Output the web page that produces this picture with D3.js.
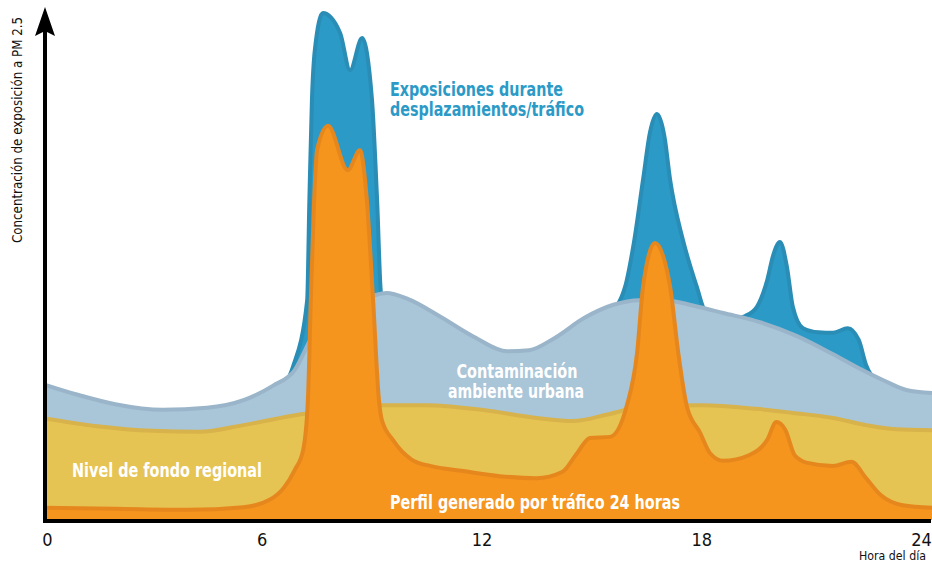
<!DOCTYPE html>
<html><head><meta charset="utf-8">
<script src="https://cdn.jsdelivr.net/npm/d3@7/dist/d3.min.js"></script>
<style>
html,body{margin:0;padding:0;background:#fff;}
svg{display:block;}
text{font-family:"Liberation Sans Narrow","DejaVu Sans Condensed","DejaVu Sans",sans-serif;font-stretch:condensed;}
</style></head>
<body>
<svg id="chart" width="932" height="568"></svg>
<script>
// Hour-of-day ticks
const hourTicks = [0, 6, 12, 18, 24];

// Traffic exposure (commuting) – hours / concentration
const exposureHours = [0, 3, 5.5, 6.4, 6.85, 7.24, 7.3, 7.37, 7.45, 7.67, 8.14, 8.41, 8.74, 9.01, 9.15, 9.26, 9.5, 10, 10.8, 11.8, 12.7, 13.3, 14, 14.8, 15.5, 15.92, 16.14, 16.41, 16.6, 16.79, 17.0, 17.15, 17.5, 17.88, 18.1, 18.6, 19.2, 19.52, 19.8, 19.96, 20.15, 20.34, 20.5, 20.78, 21.2, 21.6, 22.0, 22.3, 22.5, 22.8, 23.6, 24.3];
const exposureValues = [24, 20, 22, 25, 30, 43.1, 62.7, 82.4, 92.2, 99.4, 95.5, 88.2, 94.5, 82.4, 62.7, 44.5, 42.5, 41.8, 38.7, 34.4, 31.6, 31.8, 34.2, 38.1, 40.5, 45.7, 53.5, 66.7, 76, 79.6, 75, 66.7, 54.9, 45.7, 41, 39, 40, 41.8, 47, 51.8, 54.5, 49.6, 41.8, 37.6, 36.8, 36.7, 37.6, 35.3, 30.4, 27, 24, 23.5];

// Urban ambient pollution
const urbanHours = [0, 1, 2, 3.3, 4.5, 5.5, 6.3, 6.9, 7.4, 8.2, 9, 9.4, 10, 10.8, 11.8, 12.7, 13.3, 14, 14.8, 15.6, 16.3, 17, 17.8, 18.6, 19.6, 20.6, 21.6, 22.4, 23, 23.6, 24.3];
const urbanValues = [26.7, 24.5, 22.7, 21.6, 22.0, 23.5, 26.3, 29.4, 36.3, 42.2, 43.9, 44.5, 43.3, 40.2, 35.9, 33.1, 33.3, 35.7, 39.6, 42.2, 43.1, 43.1, 42.0, 40.6, 38.8, 36.1, 32.5, 29.4, 27.3, 25.5, 24.9];

// Regional background level
const regionalHours = [0, 1.5, 3, 4.3, 5.5, 6.8, 8, 9.3, 10.5, 12, 13.5, 14.5, 15.5, 16.5, 18, 19.5, 20.5, 21.6, 22.5, 23.3, 24.3];
const regionalValues = [20, 18.4, 17.5, 17.3, 18.6, 20.4, 21.6, 22.5, 22.5, 21.6, 20, 19.4, 20.8, 22.4, 22.5, 21.8, 21, 20, 18.6, 17.8, 17.6];

// 24-hour traffic-generated profile
const trafficHours = [0, 2, 4, 5.5, 6.2, 6.6, 6.9, 7.13, 7.26, 7.34, 7.43, 7.51, 7.81, 8.35, 8.68, 8.87, 9.04, 9.2, 9.28, 9.58, 10.1, 10.6, 11.5, 12.5, 13.5, 14.2, 14.61, 14.96, 15.51, 15.97, 16.25, 16.41, 16.74, 17.15, 17.37, 17.61, 17.97, 18.24, 18.6, 19.3, 19.8, 20.05, 20.3, 20.55, 20.9, 21.6, 22.1, 22.5, 22.9, 23.5, 24.3];
const trafficValues = [2.4, 2.2, 2.0, 2.5, 3.9, 6.3, 9.8, 13.7, 23.5, 43.1, 62.7, 72.5, 77.3, 68.6, 72.5, 62.7, 43.1, 23.5, 19.6, 15.7, 11.8, 10.6, 9.6, 8.6, 8.2, 9.4, 13.1, 16.1, 16.3, 22.5, 32.9, 45.7, 54.3, 45.7, 32.9, 22.2, 17.1, 13.1, 11.6, 12.7, 15.7, 19.2, 17.6, 12.7, 11.2, 10.6, 11.4, 8.2, 4.9, 2.9, 2.4];

const seriesLayers = [
  {hours: exposureHours, values: exposureValues, fill: "#2b9ac7", stroke: "#2a8db6"},
  {hours: urbanHours, values: urbanValues, fill: "#a9c5d8", stroke: "#9ab5c9"},
  {hours: regionalHours, values: regionalValues, fill: "#e6c453", stroke: "#d8b24a"},
  {hours: trafficHours, values: trafficValues, fill: "#f5951e", stroke: "#e6871d"}
];

const svg = d3.select("#chart");
const W = 932, H = 568;
const x = d3.scaleLinear().domain([0, 24]).range([42, 921]);
const y = d3.scaleLinear().domain([0, 100]).range([520, 10]);

svg.append("clipPath").attr("id", "plotclip")
  .append("rect").attr("x", 45).attr("y", 0).attr("width", W - 45).attr("height", 521);

const g = svg.append("g").attr("clip-path", "url(#plotclip)");

seriesLayers.forEach(s => {
  const pts = s.hours.map((h, i) => [h, s.values[i]]);
  const area = d3.area().x(d => x(d[0])).y0(y(0)).y1(d => y(d[1])).curve(d3.curveMonotoneX);
  const line = d3.line().x(d => x(d[0])).y(d => y(d[1])).curve(d3.curveMonotoneX);
  g.append("path").attr("d", area(pts)).attr("fill", s.fill);
  g.append("path").attr("d", line(pts)).attr("fill", "none")
    .attr("stroke", s.stroke).attr("stroke-width", 4).attr("stroke-linejoin", "round");
});

function label(parent, tx, ty, txt, fill, len, anchor) {
  return parent.append("text").attr("x", tx).attr("y", ty).attr("fill", fill)
    .attr("text-anchor", anchor || "start")
    .attr("textLength", len).attr("lengthAdjust", "spacingAndGlyphs").text(txt);
}

// Labels inside the chart
const lab = svg.append("g").attr("font-weight", "bold").attr("font-size", 19);
label(lab, 390, 96, "Exposiciones durante", "#2b9ac7", 173);
label(lab, 390, 116, "desplazamientos/tráfico", "#2b9ac7", 194);
label(lab, 517, 378, "Contaminación", "#fff", 121, "middle");
label(lab, 516, 398, "ambiente urbana", "#fff", 136, "middle");
label(lab, 72, 477, "Nivel de fondo regional", "#fff", 190);
label(lab, 390, 509, "Perfil generado por tráfico 24 horas", "#fff", 290);

// X axis
const xAxis = d3.axisBottom(x).tickValues(hourTicks).tickSize(0).tickPadding(12).tickFormat(d3.format("d"));
const ax = svg.append("g").attr("transform", "translate(0,521)").call(xAxis);
ax.select(".domain").remove();
ax.selectAll("text").attr("font-size", 18).attr("fill", "#111")
  .style("font-family", '"Liberation Sans Narrow","DejaVu Sans Condensed","DejaVu Sans",sans-serif')
  .style("font-stretch", "condensed")
  .attr("dx", d => d === 0 ? 5 : 0);
svg.append("line").attr("x1", 43).attr("x2", 931).attr("y1", 521).attr("y2", 521)
  .attr("stroke", "#000").attr("stroke-width", 4);

// Y axis with arrow
svg.append("line").attr("x1", 45).attr("x2", 45).attr("y1", 523).attr("y2", 28)
  .attr("stroke", "#000").attr("stroke-width", 4);
svg.append("path").attr("d", "M45,7 L55,36 L45,31 L35,36 Z").attr("fill", "#000");

svg.append("text").attr("transform", "translate(22,243) rotate(-90)")
  .attr("font-size", 14).attr("fill", "#111")
  .attr("textLength", 226).attr("lengthAdjust", "spacingAndGlyphs")
  .text("Concentración de exposición a PM 2.5");
svg.append("text").attr("x", 926).attr("y", 560).attr("text-anchor", "end")
  .attr("font-size", 13).attr("fill", "#111")
  .attr("textLength", 67).attr("lengthAdjust", "spacingAndGlyphs")
  .text("Hora del día");
</script>
</body></html>
